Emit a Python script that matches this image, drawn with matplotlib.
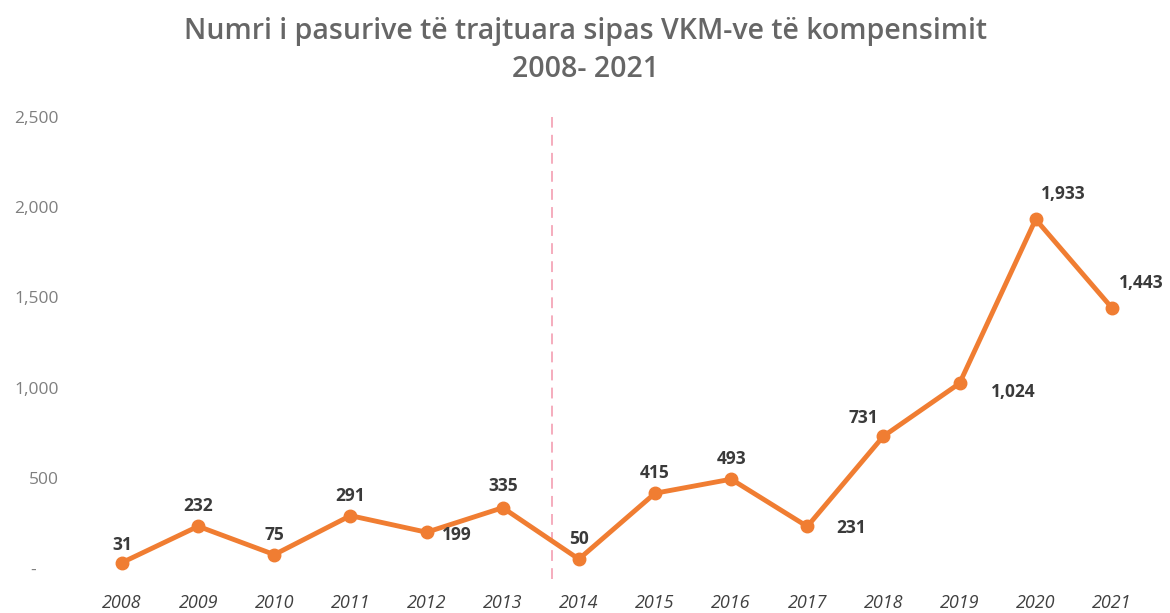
import matplotlib.pyplot as plt

years = ['2008', '2009', '2010', '2011', '2012', '2013', '2014',
         '2015', '2016', '2017', '2018', '2019', '2020', '2021']
counts = [31, 232, 75, 291, 199, 335, 50, 415, 493, 231, 731, 1024, 1933, 1443]
y_ticks = [0, 500, 1000, 1500, 2000, 2500]
y_tick_labels = ['-     ', '500', '1,000', '1,500', '2,000', '2,500']

# label offsets in pixels (dx, dy) relative to each point
label_offsets = [(0, 18), (0, 20), (0, 20), (0, 20), (30, -3), (0, 22), (0, 20),
                 (0, 20), (0, 20), (44, -2), (-20, 18), (54, -9), (28, 25), (29, 25)]

plt.rcParams['font.family'] = ['Open Sans', 'DejaVu Sans']

fig = plt.figure(figsize=(11.7, 6.13), dpi=100)
ax = fig.add_axes([0.0718, 0.0555, 0.911, 0.7536])

x = list(range(len(years)))
ax.plot(x, counts, color='#F07D32', lw=3.5, marker='o', markersize=9, zorder=3)

for xi, v, (dx, dy) in zip(x, counts, label_offsets):
    ax.annotate(f'{v:,}', (xi, v), xytext=(dx, dy), textcoords='offset pixels',
                ha='center', va='center', fontsize=12.5, fontweight='bold',
                color='#3A3A3A')

# separator between 2013 and 2014
ax.axvline(5.65, color='#F4A6B8', lw=1.3, ls=(0, (6, 4)), zorder=1)

ax.set_xlim(-0.5, 13.5)
ax.set_ylim(-60, 2500)
ax.set_xticks(x)
ax.set_xticklabels(years, fontsize=13, style='italic', color='#404040')
ax.set_yticks(y_ticks)
ax.set_yticklabels(y_tick_labels, fontsize=12.5, color='#7F7F7F')
ax.tick_params(axis='both', length=0)
ax.tick_params(axis='y', pad=18)
ax.tick_params(axis='x', pad=11)
for spine in ax.spines.values():
    spine.set_visible(False)

fig.text(0.5, 0.949, 'Numri i pasurive të trajtuara sipas VKM-ve të kompensimit',
         ha='center', va='center', fontsize=20.5, color='#666666',
         fontweight='semibold')
fig.text(0.5, 0.886, '2008- 2021', ha='center', va='center', fontsize=20.5,
         color='#666666', fontweight='semibold')

fig.savefig('out.png', dpi=100)
